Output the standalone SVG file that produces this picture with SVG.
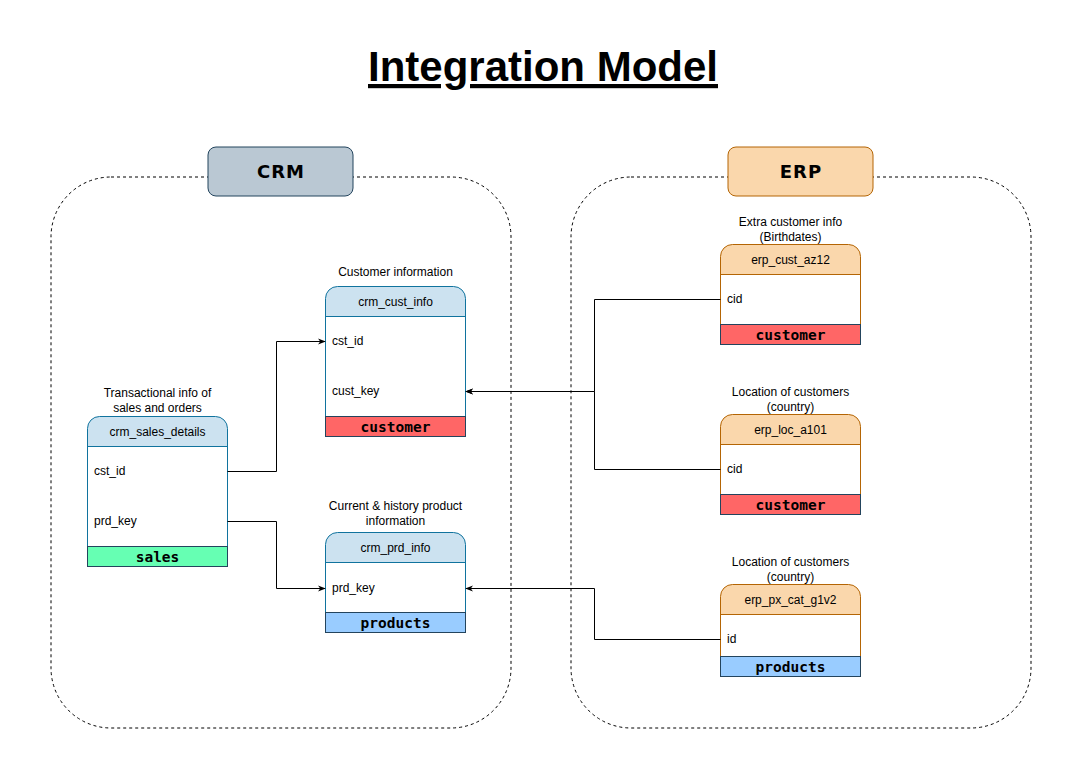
<svg xmlns="http://www.w3.org/2000/svg" width="1080" height="776" viewBox="0 0 1080 776">
<defs>
<marker id="arr" viewBox="0 0 10 10" refX="9" refY="5" markerWidth="8" markerHeight="8" markerUnits="userSpaceOnUse" orient="auto"><path d="M0,1 L10,5 L0,9 L3,5 Z" fill="#000"/></marker>
<style>
.lbl{font-family:"Liberation Sans",Arial,sans-serif;font-size:12px;fill:#000;text-anchor:middle}
.fld{font-family:"Liberation Sans",Arial,sans-serif;font-size:12px;fill:#000}
.ft{font-family:"DejaVu Sans Mono",monospace;font-size:14.5px;font-weight:bold;fill:#000;text-anchor:middle}
.grp{font-family:"DejaVu Sans",Verdana,sans-serif;font-size:18px;font-weight:bold;fill:#000;text-anchor:middle;letter-spacing:1px}
.cont{fill:none;stroke:#000;stroke-dasharray:3 3;stroke-width:1}
.crmh{fill:#cce2f0;stroke:#10739e}
.crmb{fill:#fff;stroke:#10739e}
.erph{fill:#fad7ac;stroke:#b46504}
.erpb{fill:#fff;stroke:#b46504}
.cust{fill:#ff6666;stroke:#23445d}
.prod{fill:#99ccff;stroke:#23445d}
.sal{fill:#66ffb3;stroke:#23445d}
.conn{fill:none;stroke:#000;stroke-width:1}
</style>
</defs>
<rect width="1080" height="776" fill="#fff"/>
<g id="title">
<text x="543" y="81" font-family="'Liberation Sans',Arial,sans-serif" font-size="42" font-weight="bold" text-anchor="middle" text-decoration="underline">Integration Model</text>
</g>
<g id="crm-container">
<rect class="cont" x="51" y="177" width="460" height="551" rx="60"/>
<rect x="208" y="147" width="145" height="49" rx="8" fill="#bac8d3" stroke="#23445d"/>
<text class="grp" x="281" y="178">CRM</text>
</g>
<g id="erp-container">
<rect class="cont" x="571" y="177" width="460" height="551" rx="60"/>
<rect x="728" y="147" width="145" height="49" rx="8" fill="#fad7ac" stroke="#b46504"/>
<text class="grp" x="801" y="178">ERP</text>
</g>
<g id="crm_sales_details">
<text class="lbl" x="157.5" y="397">Transactional info of</text>
<text class="lbl" x="157.5" y="412">sales and orders</text>
<path class="crmh" d="M87.5,446.5 V428.5 a12,12 0 0 1 12,-12 H215.5 a12,12 0 0 1 12,12 V446.5 Z"/>
<rect class="crmb" x="87.5" y="446.5" width="140" height="100"/>
<rect class="sal" x="87.5" y="546.5" width="140" height="20"/>
<text class="lbl" x="157.5" y="436">crm_sales_details</text>
<text class="fld" x="94" y="475">cst_id</text>
<text class="fld" x="94" y="525">prd_key</text>
<text class="ft" x="157.5" y="562">sales</text>
</g>
<g id="crm_cust_info">
<text class="lbl" x="395.5" y="276">Customer information</text>
<path class="crmh" d="M325.5,316.5 V298.5 a12,12 0 0 1 12,-12 H453.5 a12,12 0 0 1 12,12 V316.5 Z"/>
<rect class="crmb" x="325.5" y="316.5" width="140" height="100"/>
<rect class="cust" x="325.5" y="416.5" width="140" height="20"/>
<text class="lbl" x="395.5" y="306">crm_cust_info</text>
<text class="fld" x="332" y="345">cst_id</text>
<text class="fld" x="332" y="395">cust_key</text>
<text class="ft" x="395.5" y="432">customer</text>
</g>
<g id="crm_prd_info">
<text class="lbl" x="395.5" y="510">Current &amp; history product</text>
<text class="lbl" x="395.5" y="525">information</text>
<path class="crmh" d="M325.5,562.5 V544.5 a12,12 0 0 1 12,-12 H453.5 a12,12 0 0 1 12,12 V562.5 Z"/>
<rect class="crmb" x="325.5" y="562.5" width="140" height="50"/>
<rect class="prod" x="325.5" y="612.5" width="140" height="20"/>
<text class="lbl" x="395.5" y="552">crm_prd_info</text>
<text class="fld" x="332" y="592">prd_key</text>
<text class="ft" x="395.5" y="628">products</text>
</g>
<g id="erp_cust_az12">
<text class="lbl" x="790.5" y="226">Extra customer info</text>
<text class="lbl" x="790.5" y="241">(Birthdates)</text>
<path class="erph" d="M720.5,274.5 V256.5 a12,12 0 0 1 12,-12 H848.5 a12,12 0 0 1 12,12 V274.5 Z"/>
<rect class="erpb" x="720.5" y="274.5" width="140" height="50"/>
<rect class="cust" x="720.5" y="324.5" width="140" height="20"/>
<text class="lbl" x="790.5" y="264">erp_cust_az12</text>
<text class="fld" x="727" y="303">cid</text>
<text class="ft" x="790.5" y="340">customer</text>
</g>
<g id="erp_loc_a101">
<text class="lbl" x="790.5" y="396">Location of customers</text>
<text class="lbl" x="790.5" y="411">(country)</text>
<path class="erph" d="M720.5,444.5 V426.5 a12,12 0 0 1 12,-12 H848.5 a12,12 0 0 1 12,12 V444.5 Z"/>
<rect class="erpb" x="720.5" y="444.5" width="140" height="50"/>
<rect class="cust" x="720.5" y="494.5" width="140" height="20"/>
<text class="lbl" x="790.5" y="434">erp_loc_a101</text>
<text class="fld" x="727" y="473">cid</text>
<text class="ft" x="790.5" y="510">customer</text>
</g>
<g id="erp_px_cat_g1v2">
<text class="lbl" x="790.5" y="566">Location of customers</text>
<text class="lbl" x="790.5" y="581">(country)</text>
<path class="erph" d="M720.5,614.5 V596.5 a12,12 0 0 1 12,-12 H848.5 a12,12 0 0 1 12,12 V614.5 Z"/>
<rect class="erpb" x="720.5" y="614.5" width="140" height="42"/>
<rect class="prod" x="720.5" y="656.5" width="140" height="20"/>
<text class="lbl" x="790.5" y="604">erp_px_cat_g1v2</text>
<text class="fld" x="727" y="643">id</text>
<text class="ft" x="790.5" y="672">products</text>
</g>
<g id="connectors">
<path class="conn" d="M227.5,471.5 H276.5 V341.5 H325" marker-end="url(#arr)"/>
<path class="conn" d="M227.5,521.5 H276.5 V588.5 H325" marker-end="url(#arr)"/>
<path class="conn" d="M720.5,299.5 H594.5 V391.5 H466" marker-end="url(#arr)"/>
<path class="conn" d="M720.5,469.5 H594.5 V391.5 H466" marker-end="url(#arr)"/>
<path class="conn" d="M720.5,639.5 H594.5 V588.5 H466" marker-end="url(#arr)"/>
</g>
</svg>
